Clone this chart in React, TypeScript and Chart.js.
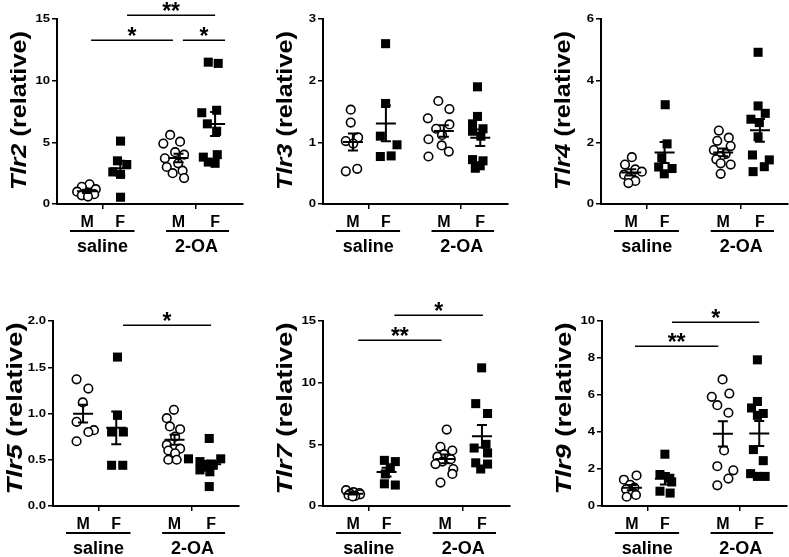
import React, { useEffect, useRef } from "react";
import { Chart, registerables } from "chart.js";

Chart.register(...registerables);

// ---------- shared categories ----------
const sexLabels = ["M", "F", "M", "F"];
const treatmentLabels = ["saline", "2-OA"];
const groupX = [0.97, 2.04, 3.92, 5.1];
const xTickPositions = [1.48, 4.47];
const treatmentSpans = [
  [0.42, 2.5],
  [3.52, 5.55],
];
const treatmentCenters = [1.47, 4.5];

// ---------- Tlr2 ----------
const tlr2Ticks = ["0", "5", "10", "15"];
const tlr2SalineM = [[1.05, 1.6], [0.8, 1.4], [1.25, 1.2], [0.65, 1.0], [1.0, 0.9], [1.2, 0.8], [0.8, 0.7], [1.0, 0.6]];
const tlr2SalineF = [[2.05, 5.1], [1.95, 3.5], [2.25, 3.2], [1.8, 2.6], [2.05, 2.4], [2.05, 0.55]];
const tlr2OaM = [[3.65, 5.6], [3.97, 5.05], [3.43, 4.9], [3.81, 4.2], [4.1, 4.0], [3.48, 3.7], [3.91, 3.3], [3.54, 3.0], [4.05, 2.7], [3.73, 2.5], [4.1, 2.1]];
const tlr2OaF = [[4.88, 11.5], [5.2, 11.4], [5.15, 7.6], [4.67, 7.4], [4.85, 6.5], [5.15, 5.9], [5.17, 4.0], [4.72, 3.8], [4.88, 3.4], [5.1, 3.3]];
const tlr2Sig = [[1.1, 3.74, 13.3, "*"], [4.06, 5.42, 13.3, "*"], [2.26, 5.1, 15.3, "**"]];

// ---------- Tlr3 ----------
const tlr3Ticks = ["0", "1", "2", "3"];
const tlr3SalineM = [[0.9, 1.53], [0.9, 1.32], [1.14, 1.08], [0.74, 1.02], [0.98, 0.98], [1.11, 0.57], [0.74, 0.53]];
const tlr3SalineF = [[2.03, 2.6], [2.03, 1.63], [1.86, 1.1], [2.4, 0.96], [1.86, 0.77], [2.21, 0.78]];
const tlr3OaM = [[3.74, 1.67], [4.1, 1.54], [3.4, 1.39], [4.1, 1.29], [3.67, 1.22], [3.86, 1.12], [3.42, 1.05], [3.85, 0.95], [4.08, 0.85], [3.42, 0.77]];
const tlr3OaF = [[5.01, 1.9], [5.01, 1.42], [4.85, 1.3], [5.19, 1.22], [4.85, 1.18], [5.12, 1.1], [4.85, 0.72], [5.19, 0.7], [5.1, 0.62], [4.94, 0.58]];

// ---------- Tlr4 ----------
const tlr4Ticks = ["0", "2", "4", "6"];
const tlr4SalineM = [[0.99, 1.52], [0.77, 1.28], [1.1, 1.12], [1.31, 1.05], [0.74, 0.95], [0.9, 0.85], [1.1, 0.75], [0.88, 0.68]];
const tlr4SalineF = [[2.06, 3.22], [2.12, 1.95], [1.95, 1.5], [1.85, 1.2], [2.28, 1.15], [2.03, 0.98]];
const tlr4OaM = [[3.78, 2.38], [4.1, 2.15], [3.73, 2.05], [4.16, 1.88], [3.62, 1.75], [4.0, 1.62], [3.84, 1.55], [3.7, 1.45], [3.84, 1.32], [4.16, 1.28], [3.84, 0.98]];
const tlr4OaF = [[5.04, 4.92], [5.04, 3.18], [5.27, 2.94], [4.81, 2.75], [5.08, 2.64], [5.04, 2.18], [4.86, 1.59], [5.4, 1.43], [5.24, 1.21], [4.88, 1.05]];

// ---------- Tlr5 ----------
const tlr5Ticks = ["0.0", "0.5", "1.0", "1.5", "2.0"];
const tlr5SalineM = [[0.76, 1.37], [1.14, 1.27], [0.96, 1.12], [0.76, 0.91], [1.32, 0.82], [1.14, 0.8], [0.76, 0.7]];
const tlr5SalineF = [[2.08, 1.61], [2.08, 0.98], [1.89, 0.8], [2.27, 0.8], [1.89, 0.44], [2.25, 0.44]];
const tlr5OaM = [[3.9, 1.04], [3.67, 0.95], [3.77, 0.86], [4.1, 0.83], [3.94, 0.75], [3.67, 0.66], [4.1, 0.62], [3.72, 0.6], [3.94, 0.57], [3.72, 0.5], [3.99, 0.5]];
const tlr5OaF = [[5.04, 0.73], [4.37, 0.51], [5.41, 0.51], [4.74, 0.48], [4.96, 0.45], [5.17, 0.44], [4.85, 0.42], [4.74, 0.39], [5.06, 0.37], [5.04, 0.21]];
const tlr5Sig = [[2.26, 5.1, 1.96, "*"]];

// ---------- Tlr7 ----------
const tlr7Ticks = ["0", "5", "10", "15"];
const tlr7SalineM = [[0.74, 1.28], [0.98, 1.12], [1.17, 1.05], [0.87, 1.0], [1.19, 0.95], [0.82, 0.88], [1.03, 0.82], [0.95, 0.78]];
const tlr7SalineF = [[1.97, 3.7], [2.32, 3.6], [2.16, 3.1], [2.0, 2.6], [1.97, 1.8], [2.32, 1.7]];
const tlr7OaM = [[3.97, 6.2], [3.77, 4.8], [4.15, 4.5], [3.88, 4.2], [3.67, 4.0], [4.1, 3.8], [3.83, 3.6], [3.61, 3.4], [4.18, 3.0], [4.15, 2.6], [3.77, 1.9]];
const tlr7OaF = [[5.09, 11.2], [4.9, 8.3], [5.28, 7.5], [5.23, 5.0], [4.85, 4.7], [5.28, 4.3], [4.9, 3.5], [5.28, 3.4], [5.06, 3.0]];
const tlr7Sig = [[1.13, 3.8, 13.46, "**"], [2.29, 5.13, 15.5, "*"]];

// ---------- Tlr9 ----------
const tlr9Ticks = ["0", "2", "4", "6", "8", "10"];
const tlr9SalineM = [[1.12, 1.65], [0.71, 1.42], [0.91, 1.15], [1.05, 1.0], [0.78, 0.9], [0.99, 0.72], [1.1, 0.6], [0.8, 0.5]];
const tlr9SalineF = [[2.04, 2.8], [1.88, 1.7], [2.2, 1.5], [2.26, 1.3], [1.88, 0.8], [2.21, 0.7]];
const tlr9OaM = [[3.91, 6.84], [3.56, 5.9], [4.13, 6.08], [3.74, 5.45], [4.1, 5.04], [3.96, 3.0], [3.74, 2.15], [4.26, 1.93], [4.1, 1.48], [3.74, 1.12]];
const tlr9OaF = [[5.04, 7.9], [5.04, 5.65], [4.85, 5.3], [5.23, 5.0], [5.04, 4.9], [4.91, 3.05], [5.23, 2.45], [4.82, 1.75], [5.04, 1.6], [5.29, 1.6]];
const tlr9Sig = [[1.07, 3.77, 8.65, "**"], [2.27, 5.1, 9.95, "*"]];

// ---------- layout (pixels) ----------
const FONT = "'Liberation Sans', Arial, Helvetica, sans-serif";
const PAD_L = 60;
const PAD_T = 30;
const PAD_R = 10;
const CANVAS_H = 275;
const TICK_LEN = 5;

interface PanelCfg {
  gene: string;
  ticks: string[];
  groups: number[][][];
  sig: (number | string)[][];
  left: number;
  top: number;
  width: number;
  height: number;
  labelLen: number;
  labelDy: number;
}

const panels: PanelCfg[] = [
  { gene: "Tlr2", ticks: tlr2Ticks, groups: [tlr2SalineM, tlr2SalineF, tlr2OaM, tlr2OaF], sig: tlr2Sig, left: 57, top: 19, width: 186, height: 185, labelLen: 159, labelDy: -1 },
  { gene: "Tlr3", ticks: tlr3Ticks, groups: [tlr3SalineM, tlr3SalineF, tlr3OaM, tlr3OaF], sig: [], left: 323, top: 19, width: 185, height: 185, labelLen: 159, labelDy: -1 },
  { gene: "Tlr4", ticks: tlr4Ticks, groups: [tlr4SalineM, tlr4SalineF, tlr4OaM, tlr4OaF], sig: [], left: 601, top: 19, width: 187, height: 185, labelLen: 159, labelDy: -1 },
  { gene: "Tlr5", ticks: tlr5Ticks, groups: [tlr5SalineM, tlr5SalineF, tlr5OaM, tlr5OaF], sig: tlr5Sig, left: 53, top: 321, width: 186, height: 185, labelLen: 172, labelDy: -5 },
  { gene: "Tlr7", ticks: tlr7Ticks, groups: [tlr7SalineM, tlr7SalineF, tlr7OaM, tlr7OaF], sig: tlr7Sig, left: 323, top: 321, width: 187, height: 185, labelLen: 172, labelDy: -5 },
  { gene: "Tlr9", ticks: tlr9Ticks, groups: [tlr9SalineM, tlr9SalineF, tlr9OaM, tlr9OaF], sig: tlr9Sig, left: 602, top: 321, width: 185, height: 185, labelLen: 172, labelDy: -5 },
];

function mean(a: number[]) {
  return a.reduce((s, v) => s + v, 0) / a.length;
}
function sem(a: number[]) {
  const m = mean(a);
  const v = a.reduce((s, x) => s + (x - m) * (x - m), 0) / (a.length - 1);
  return Math.sqrt(v) / Math.sqrt(a.length);
}

function makePlugin(cfg: PanelCfg) {
  return {
    id: "decor",
    afterDatasetsDraw(chart: any) {
      const { ctx } = chart;
      const x = chart.scales.x;
      const y = chart.scales.y;
      ctx.save();
      ctx.strokeStyle = "#000";
      ctx.lineWidth = 2;
      cfg.groups.forEach((g, i) => {
        const vals = g.map((p) => p[1]);
        const m = mean(vals);
        const s = sem(vals);
        const cx = x.getPixelForValue(groupX[i]);
        const my = y.getPixelForValue(m);
        const hi = y.getPixelForValue(m + s);
        const lo = y.getPixelForValue(m - s);
        ctx.beginPath();
        ctx.moveTo(cx - 10, my);
        ctx.lineTo(cx + 10, my);
        ctx.moveTo(cx, hi);
        ctx.lineTo(cx, lo);
        ctx.moveTo(cx - 5, hi);
        ctx.lineTo(cx + 5, hi);
        ctx.moveTo(cx - 5, lo);
        ctx.lineTo(cx + 5, lo);
        ctx.stroke();
      });
      ctx.restore();
    },
    afterDraw(chart: any) {
      const { ctx, chartArea } = chart;
      const x = chart.scales.x;
      const y = chart.scales.y;
      const bottom = chartArea.bottom;
      const left = chartArea.left;
      ctx.save();
      ctx.fillStyle = "#000";
      ctx.strokeStyle = "#000";

      // y tick labels
      ctx.font = `bold 10.5px ${FONT}`;
      ctx.textAlign = "right";
      ctx.textBaseline = "middle";
      cfg.ticks.forEach((t) => {
        const py = y.getPixelForValue(parseFloat(t));
        ctx.save();
        ctx.translate(left - 7, py + 0.5);
        ctx.scale(1.25, 1);
        ctx.fillText(t, 0, 0);
        ctx.restore();
      });

      // y title: italic gene + " (relative)"
      const part2 = " (relative)";
      const fItal = `italic bold 22px ${FONT}`;
      const fNorm = `bold 22px ${FONT}`;
      ctx.font = fItal;
      const w1 = ctx.measureText(cfg.gene).width;
      ctx.font = fNorm;
      const w2 = ctx.measureText(part2).width;
      const total = w1 + w2;
      const sx = cfg.labelLen / total;
      ctx.save();
      ctx.translate(left - 31, (chartArea.top + bottom) / 2 + cfg.labelDy);
      ctx.rotate(-Math.PI / 2);
      ctx.scale(sx, 1);
      ctx.textAlign = "left";
      ctx.textBaseline = "alphabetic";
      ctx.font = fItal;
      ctx.fillText(cfg.gene, -total / 2, 0);
      ctx.font = fNorm;
      ctx.fillText(part2, -total / 2 + w1, 0);
      ctx.restore();

      // M / F labels
      ctx.font = `bold 16px ${FONT}`;
      ctx.textAlign = "center";
      ctx.textBaseline = "alphabetic";
      sexLabels.forEach((s, i) => {
        ctx.fillText(s, x.getPixelForValue(groupX[i]), bottom + 23);
      });

      // treatment underlines and labels
      ctx.lineWidth = 2;
      treatmentSpans.forEach((sp) => {
        ctx.beginPath();
        ctx.moveTo(x.getPixelForValue(sp[0]), bottom + 27);
        ctx.lineTo(x.getPixelForValue(sp[1]), bottom + 27);
        ctx.stroke();
      });
      ctx.font = `bold 18px ${FONT}`;
      treatmentLabels.forEach((t, i) => {
        ctx.fillText(t, x.getPixelForValue(treatmentCenters[i]), bottom + 48);
      });

      // significance bars
      ctx.lineWidth = 1.5;
      ctx.font = `bold 23px ${FONT}`;
      cfg.sig.forEach((s) => {
        const x1 = x.getPixelForValue(s[0] as number);
        const x2 = x.getPixelForValue(s[1] as number);
        const py = Math.round(y.getPixelForValue(s[2] as number)) + 0.25;
        ctx.beginPath();
        ctx.moveTo(x1, py);
        ctx.lineTo(x2, py);
        ctx.stroke();
        const label = s[3] as string;
        const m = ctx.measureText(label);
        const centerY = py - 8.5;
        const base = centerY - (m.actualBoundingBoxDescent - m.actualBoundingBoxAscent) / 2;
        ctx.textAlign = "center";
        ctx.fillText(label, (x1 + x2) / 2, base);
      });
      ctx.restore();
    },
  };
}

function Panel({ cfg }: { cfg: PanelCfg }) {
  const ref = useRef<HTMLCanvasElement>(null);
  const cw = PAD_L + cfg.width + PAD_R;
  useEffect(() => {
    const canvas = ref.current;
    if (!canvas) return;
    const yMax = parseFloat(cfg.ticks[cfg.ticks.length - 1]);
    const tickVals = cfg.ticks.map((t) => parseFloat(t));
    const datasets = cfg.groups.map((g, i) => {
      const open = i % 2 === 0;
      return {
        label: `${treatmentLabels[Math.floor(i / 2)]} ${sexLabels[i]}`,
        data: g.map((p) => ({ x: p[0], y: p[1] })),
        showLine: false,
        pointStyle: open ? "circle" : "rect",
        pointRadius: open ? 4.3 : 6.4,
        pointBackgroundColor: open ? "#ffffff" : "#000000",
        pointBorderColor: "#000000",
        pointBorderWidth: open ? 1.6 : 0,
        clip: false,
      };
    });
    const axisCommon = {
      type: "linear",
      ticks: { display: false },
      grid: {
        display: true,
        drawOnChartArea: false,
        drawTicks: true,
        tickLength: TICK_LEN,
        color: "#000",
        lineWidth: 1.5,
      },
      border: { display: true, color: "#000", width: 2 },
    };
    const bottomPad = CANVAS_H - PAD_T - cfg.height - TICK_LEN;
    const chart = new Chart(canvas, {
      type: "scatter",
      data: { datasets } as any,
      options: {
        responsive: false,
        animation: false,
        events: [],
        layout: {
          autoPadding: false,
          padding: { left: PAD_L - TICK_LEN, top: PAD_T, right: PAD_R, bottom: bottomPad },
        },
        plugins: { legend: { display: false }, tooltip: { enabled: false } },
        scales: {
          x: {
            ...axisCommon,
            min: 0,
            max: 6,
            afterBuildTicks: (axis: any) => {
              axis.ticks = xTickPositions.map((v) => ({ value: v }));
            },
          },
          y: {
            ...axisCommon,
            min: 0,
            max: yMax,
            afterBuildTicks: (axis: any) => {
              axis.ticks = tickVals.map((v) => ({ value: v }));
            },
          },
        },
      } as any,
      plugins: [makePlugin(cfg)],
    });
    return () => chart.destroy();
  }, [cfg]);
  return (
    <div
      style={{
        position: "absolute",
        left: cfg.left - PAD_L,
        top: cfg.top - PAD_T,
        width: cw,
        height: CANVAS_H,
      }}
    >
      <canvas ref={ref} width={cw} height={CANVAS_H} style={{ display: "block", width: cw, height: CANVAS_H }} />
    </div>
  );
}

export default function App() {
  return (
    <div
      style={{
        position: "absolute",
        left: 0,
        top: 0,
        width: 789,
        height: 557,
        overflow: "hidden",
        background: "#ffffff",
      }}
    >
      {panels.map((p) => (
        <Panel key={p.gene} cfg={p} />
      ))}
    </div>
  );
}
